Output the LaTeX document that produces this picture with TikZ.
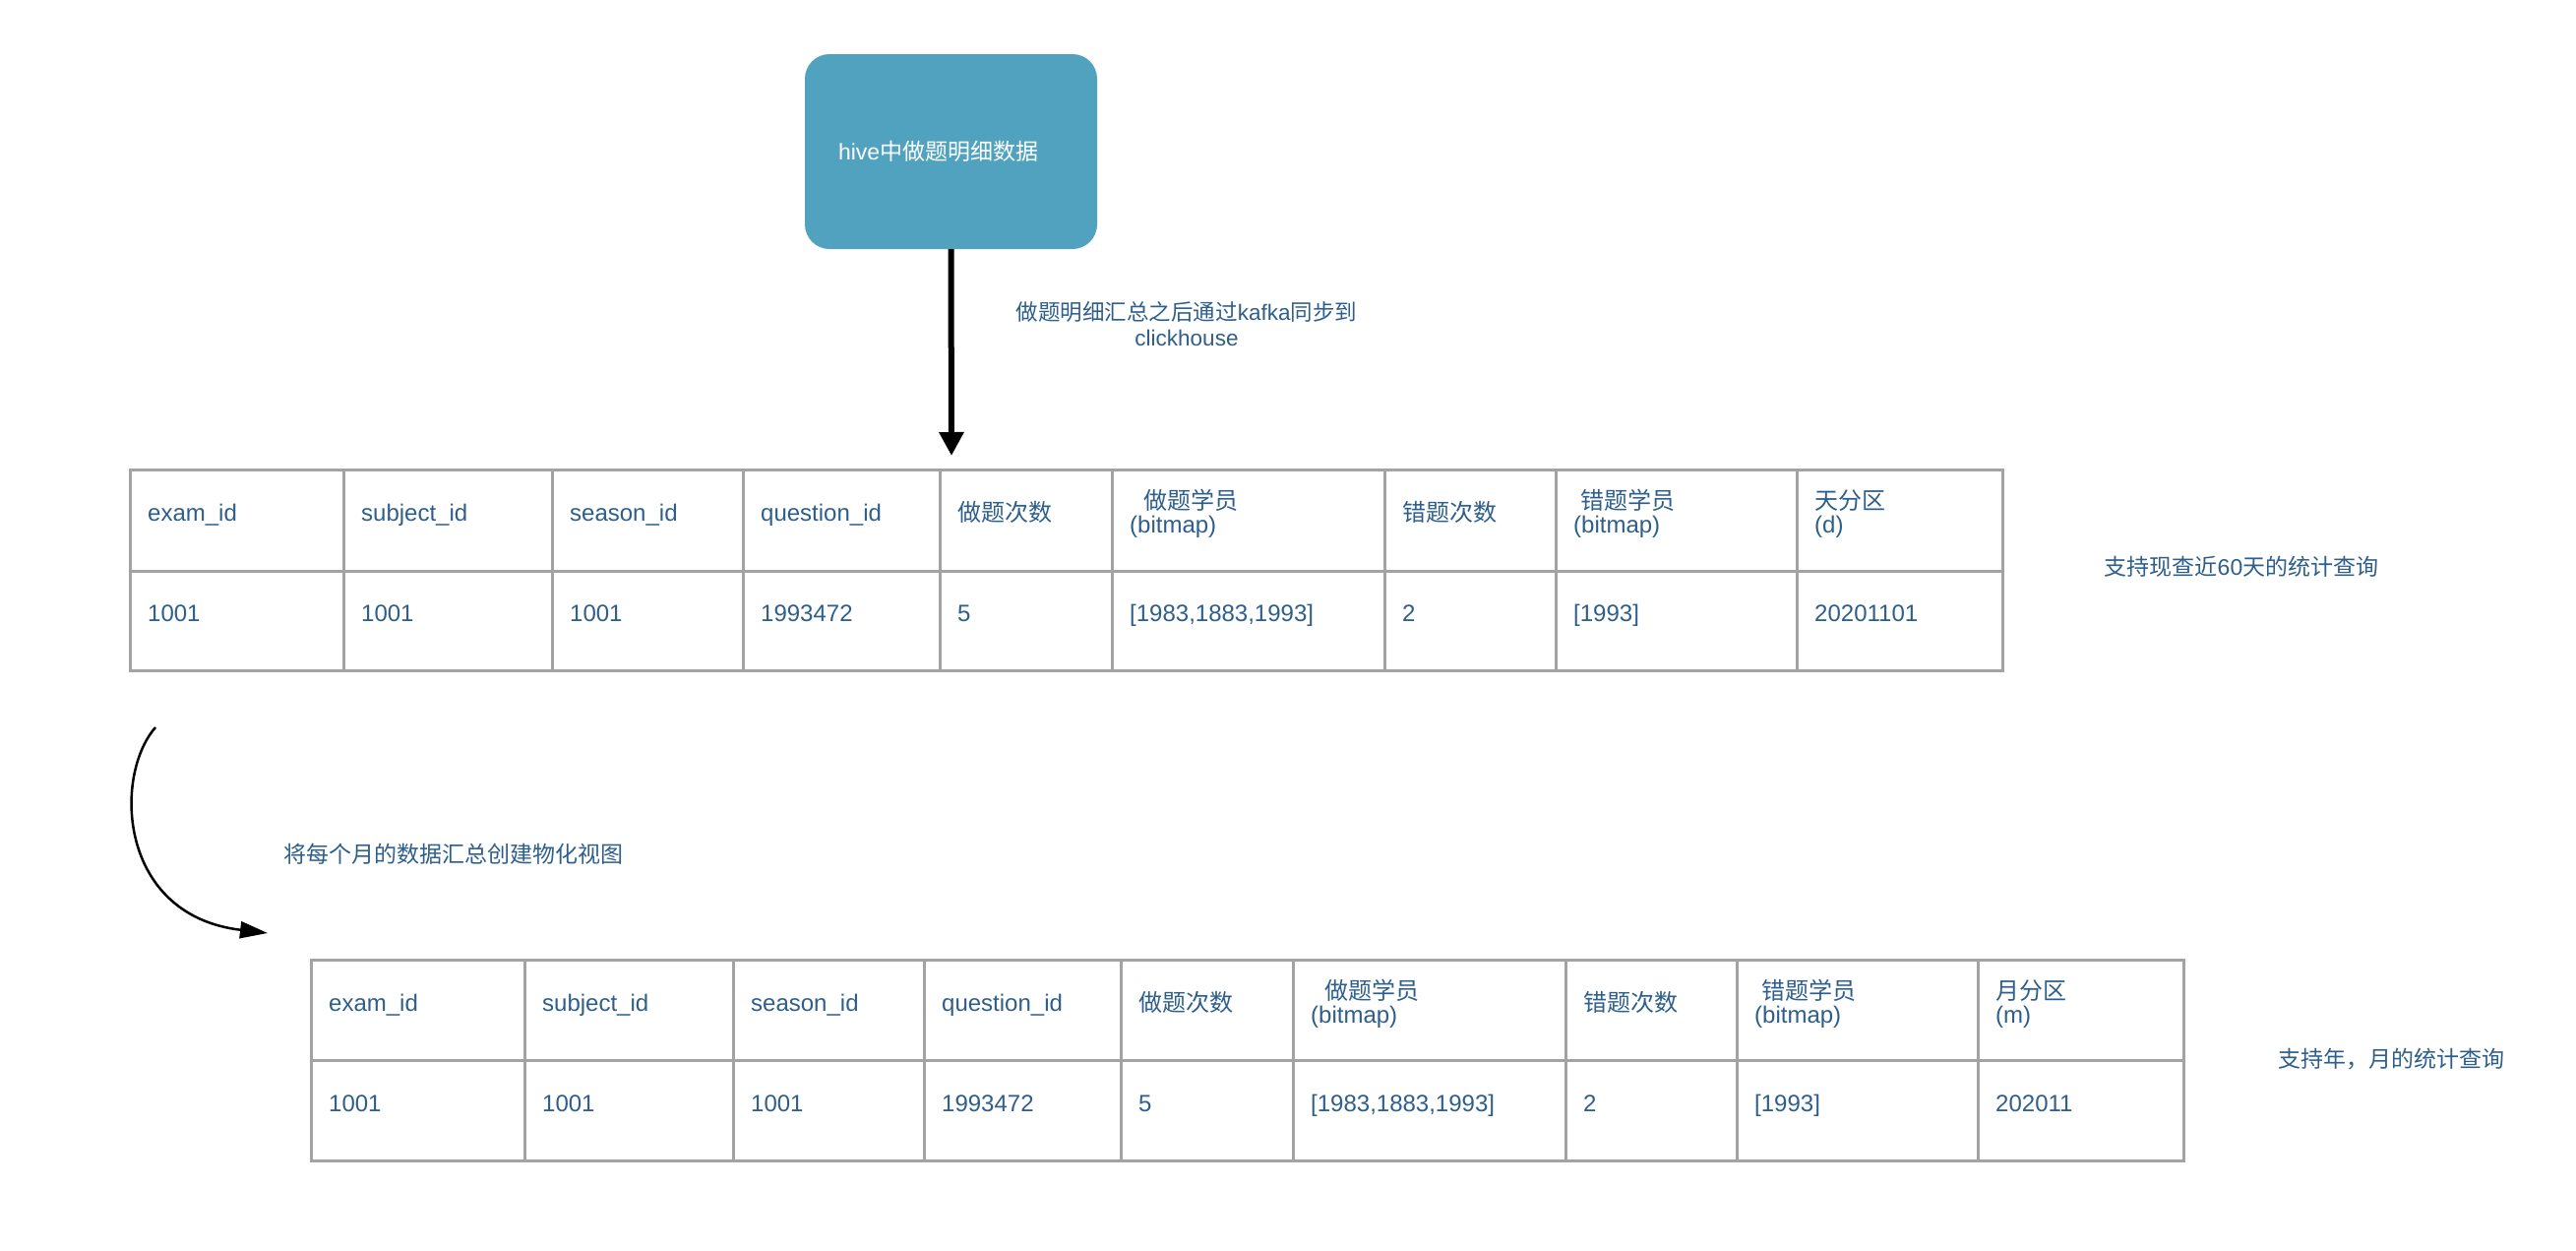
\documentclass[tikz,border=0pt]{standalone}
\usepackage{fontspec}
\setmainfont{Liberation Sans}
\newfontfamily\cjk{Noto Sans CJK SC}
\newcommand\C[1]{{\cjk #1}}
\usetikzlibrary{arrows.meta}
\definecolor{boxblue}{HTML}{51A2BF}
\definecolor{txtblue}{HTML}{2E5F8C}
\definecolor{gridgray}{HTML}{A3A3A3}
\begin{document}
\begin{tikzpicture}[x=1pt,y=-1pt,
  tablegrid/.style={draw=gridgray, line width=3pt},
  celltxt/.style={anchor=base west, inner sep=0pt, text=txtblue, font=\fontsize{24}{24}\selectfont},
  lbl/.style={anchor=base, inner sep=0pt, text=txtblue, font=\fontsize{22.5}{26}\selectfont},
  srcbox/.style={fill=boxblue, draw=none, rounded corners=25pt, minimum height=198pt,
     inner xsep=34pt, text width=229pt, align=left, text=white, font=\fontsize{23}{24}\selectfont},
  thickarrow/.style={line width=6pt, -{Triangle[length=24pt,width=24pt]}},
  curvearrow/.style={line width=2.5pt, -{Triangle[length=28pt,width=17pt]}}
]
\useasboundingbox[fill=white] (0,0) rectangle (2618,1270);

% source box
\node[srcbox] (hive) at (966.5,154) {hive\C{中做题明细数据}};
\coordinate (t1top) at (967,463);
\draw[thickarrow] (hive.south) -- (t1top);
\node[lbl, font=\fontsize{22.5}{26}\selectfont] (sync) at (1206,325)
  {\begin{tabular}[t]{@{}c@{}}\C{做题明细汇总之后通过}kafka\C{同步到}\\clickhouse\end{tabular}};

% table 1
\draw[tablegrid] (132,477) rectangle (2035,681);
\draw[tablegrid] (132,580) -- (2035,580);
\foreach \x in {349,561,755,955,1130,1407,1581,1826} \draw[tablegrid] (\x,477) -- (\x,681);
\node[celltxt] (a1) at (150,529) {exam\_id};
\node[celltxt] (a2) at (367,529) {subject\_id};
\node[celltxt] (a3) at (579,529) {season\_id};
\node[celltxt] (a4) at (773,529) {question\_id};
\node[celltxt] (a5) at (973,529) {\C{做题次数}};
\node[celltxt] (a6) at (1148,517) {\begin{tabular}[t]{@{}l@{}}\hspace*{14pt}\C{做题学员}\\(bitmap)\end{tabular}};
\node[celltxt] (a7) at (1425,529) {\C{错题次数}};
\node[celltxt] (a8) at (1599,517) {\begin{tabular}[t]{@{}l@{}}\hspace*{7pt}\C{错题学员}\\(bitmap)\end{tabular}};
\node[celltxt] (a9) at (1844,517) {\begin{tabular}[t]{@{}l@{}}\C{天分区}\\(d)\end{tabular}};
\node[celltxt] (b1) at (150,631) {1001};
\node[celltxt] (b2) at (367,631) {1001};
\node[celltxt] (b3) at (579,631) {1001};
\node[celltxt] (b4) at (773,631) {1993472};
\node[celltxt] (b5) at (973,631) {5};
\node[celltxt] (b6) at (1148,631) {[1983,1883,1993]};
\node[celltxt] (b7) at (1425,631) {2};
\node[celltxt] (b8) at (1599,631) {[1993]};
\node[celltxt] (b9) at (1844,631) {20201101};
\node[lbl, font=\fontsize{23}{26}\selectfont] (day) at (2278,584) {\C{支持现查近}60\C{天的统计查询}};

% curved arrow
\coordinate (cstart) at (158,739);
\coordinate (cend) at (272,948);
\draw[curvearrow] (cstart) .. controls (115,788) and (120,930) .. (cend);
\node[lbl, font=\fontsize{23}{26}\selectfont] (mv) at (461,876) {\C{将每个月的数据汇总创建物化视图}};

% table 2
\draw[tablegrid] (316,975) rectangle (2219,1179);
\draw[tablegrid] (316,1077) -- (2219,1077);
\foreach \x in {533,745,939,1139,1314,1591,1765,2010} \draw[tablegrid] (\x,975) -- (\x,1179);
\node[celltxt] (c1) at (334,1027) {exam\_id};
\node[celltxt] (c2) at (551,1027) {subject\_id};
\node[celltxt] (c3) at (763,1027) {season\_id};
\node[celltxt] (c4) at (957,1027) {question\_id};
\node[celltxt] (c5) at (1157,1027) {\C{做题次数}};
\node[celltxt] (c6) at (1332,1015) {\begin{tabular}[t]{@{}l@{}}\hspace*{14pt}\C{做题学员}\\(bitmap)\end{tabular}};
\node[celltxt] (c7) at (1609,1027) {\C{错题次数}};
\node[celltxt] (c8) at (1783,1015) {\begin{tabular}[t]{@{}l@{}}\hspace*{7pt}\C{错题学员}\\(bitmap)\end{tabular}};
\node[celltxt] (c9) at (2028,1015) {\begin{tabular}[t]{@{}l@{}}\C{月分区}\\(m)\end{tabular}};
\node[celltxt] (d1) at (334,1129) {1001};
\node[celltxt] (d2) at (551,1129) {1001};
\node[celltxt] (d3) at (763,1129) {1001};
\node[celltxt] (d4) at (957,1129) {1993472};
\node[celltxt] (d5) at (1157,1129) {5};
\node[celltxt] (d6) at (1332,1129) {[1983,1883,1993]};
\node[celltxt] (d7) at (1609,1129) {2};
\node[celltxt] (d8) at (1783,1129) {[1993]};
\node[celltxt] (d9) at (2028,1129) {202011};
\node[lbl, font=\fontsize{23}{26}\selectfont] (month) at (2430,1084) {\C{支持年，月的统计查询}};
\end{tikzpicture}
\end{document}
